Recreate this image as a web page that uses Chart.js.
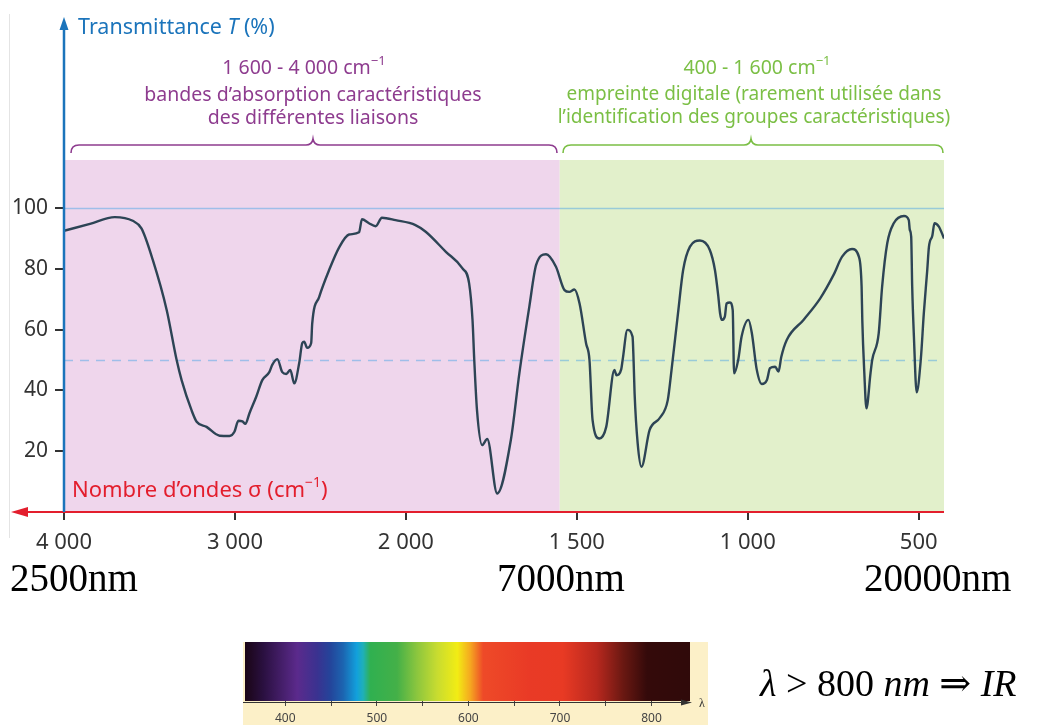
<!DOCTYPE html>
<html><head><meta charset="utf-8">
<script src="https://cdn.jsdelivr.net/npm/chart.js@4"></script>
<style>
html,body{margin:0;padding:0;background:#fff;}
#wrap{position:relative;width:1041px;height:725px;overflow:hidden;}
#main{position:absolute;left:0;top:0;}
#spec{position:absolute;left:243px;top:642px;background:#fcf0c8;}
</style></head><body>
<div id="wrap"><canvas id="main" width="1041" height="725"></canvas><canvas id="spec" width="465" height="83"></canvas></div>
<script>
// ---------- data ----------
const wavenumber = [4000,3848,3703,3598,3547,3481,3399,3341,3312,3254,
 3224,3166,3090,3032,3003,2980,2956,2939,2915,2875,
 2840,2799,2781,2752,2723,2700,2676,2653,2624,2606,
 2595,2577,2554,2548,2507,2449,2391,2332,2274,2257,
 2216,2177,2140,2060,1972,1942,1883,1835,1815,1805,
 1800,1792,1777,1762,1733,1693,1668,1639,1619,1590,
 1561,1536,1522,1507,1492,1473,1463,1454,1434,1414,
 1390,1384,1370,1366,1352,1337,1334,1331,1322,1311,
 1287,1257,1234,1223,1204,1189,1169,1140,1111,1096,
 1086,1081,1076,1067,1062,1052,1044,1040,1028,1018,
 998,988,974,959,944,935,920,910,902,886,
 837,788,749,724,695,675,667,665,659,653,
 641,636,617,607,592,573,543,529,526,522,
 519,514,506,494,485,475,470,460,454,441,426];
const transmittance = [92.5,94.8,97.0,95.8,93.3,83,66.4,50,43.4,33.5,
 29.7,28,25.1,25,26.4,30,29.8,29,32.5,38,
 43.4,46,48.5,50.3,46,45.4,46.7,42.3,49,55.6,
 56,54,55.6,62,70.8,79.6,87,91.3,92,96.3,
 95,94,96.8,96,94.4,92.2,85.6,80.2,75.2,63,
 50,33.5,22,24,6.1,23.7,45.7,67.5,81.3,84.8,
 80.7,73,72.4,73.2,68.6,55.5,50,30.3,24.2,28,
 46.7,45,47,50,59.9,57.7,50,39,22.6,14.9,
 27,31,36.8,46.7,65.4,79.6,87.3,89.3,86.2,79.6,
 70.8,65.4,63.2,64.3,68.6,68.9,66.4,45.6,50,57.7,
 63.2,58.8,47,42.1,43.4,47.3,47.8,46.2,51,56.6,
 63.2,70.3,78,84,86.5,84,74.1,63.2,45.6,34.1,
 45.6,50,58.8,74.1,88.4,95,97.4,96,92.8,90.6,
 74,57.7,39.4,50,65.4,79.6,87.3,91,95,93.9,90];
const xTickWavenumbers = [4000,3000,2000,1500,1000,500];
const yTickValues = [20,40,60,80,100];
const xRange = [4000,426];
const yRange = [0,115.8];
const regionEdges = [4000,1550,426];
const refLines = [100,50];
const nmLabels = ['2500nm','7000nm','20000nm'];
const specRange = [356,842];
const specTicks = [400,450,500,550,600,650,700,750,800];
const specStopsNm = [356,376,413,435,449,463,478,485,493,522,544,566,588,602,616,667,703,740,769,795,842];
const specStopsColor = ['#1a0515','#2a1040','#5b2a8c','#3a3290','#24449a','#1c64b0','#12a0dc','#1fb0b8','#30b050','#44b048','#8cc63e','#c8dc30','#f2ec14','#f5a820','#ee4a28','#e93a26','#e83a24','#b8281e','#6a1812','#340a0a','#300a0a'];

// axis with IR scale change at 2000 cm-1 (half compression above 2000)
function u(s){ return s >= 2000 ? (4000 - s)/2 : 1000 + (2000 - s); }
function sigma(v){ return v <= 1000 ? 4000 - 2*v : 2000 - (v - 1000); }
function fmt(n){ n = Math.round(n); return n >= 1000 ? Math.floor(n/1000) + ' ' + String(n%1000).padStart(3,'0') : String(n); }

const SANS = '"Noto Sans", "Open Sans", sans-serif';
const SERIF = '"Liberation Serif", "DejaVu Serif", serif';

function rich(ctx, parts, x, y, align){
  let w = 0;
  parts.forEach(p => { ctx.font = p.font; p.w = ctx.measureText(p.t).width; w += p.w; });
  let cx = align === 'center' ? x - w/2 : x;
  ctx.textBaseline = 'middle'; ctx.textAlign = 'left';
  parts.forEach(p => { ctx.font = p.font; ctx.fillText(p.t, cx, y + (p.dy || 0)); cx += p.w; });
}
function brace(ctx, x0, x1, cx, y, color){
  ctx.save(); ctx.strokeStyle = color; ctx.lineWidth = 1.6;
  ctx.beginPath();
  ctx.moveTo(x0, y + 8);
  ctx.quadraticCurveTo(x0, y, x0 + 8, y);
  ctx.lineTo(cx - 7, y);
  ctx.quadraticCurveTo(cx - 1, y, cx, y - 6);
  ctx.quadraticCurveTo(cx + 1, y, cx + 7, y);
  ctx.lineTo(x1 - 8, y);
  ctx.quadraticCurveTo(x1, y, x1, y + 8);
  ctx.stroke(); ctx.restore();
}

const decor = {
  id: 'decor',
  beforeDraw(chart){
    const {ctx, chartArea: a, scales: {x, y}} = chart;
    const xb = x.getPixelForValue(u(regionEdges[1]));
    const xl = x.getPixelForValue(u(regionEdges[0]));
    const xr = x.getPixelForValue(u(regionEdges[2]));
    ctx.save();
    ctx.fillStyle = '#efd6ec'; ctx.fillRect(xl, a.top, xb - xl, a.bottom - a.top);
    ctx.fillStyle = '#e2f0cb'; ctx.fillRect(xb, a.top, xr - xb, a.bottom - a.top);
    ctx.strokeStyle = 'rgba(80,165,230,0.5)'; ctx.lineWidth = 1.5;
    let py = Math.round(y.getPixelForValue(refLines[0])) + 0.5;
    ctx.beginPath(); ctx.moveTo(a.left, py); ctx.lineTo(a.right, py); ctx.stroke();
    py = Math.round(y.getPixelForValue(refLines[1])) + 0.5;
    ctx.setLineDash([9,7]);
    ctx.beginPath(); ctx.moveTo(a.left, py); ctx.lineTo(a.right, py); ctx.stroke();
    ctx.restore();
    // faint image border line
    ctx.save(); ctx.strokeStyle = '#e4e4e4'; ctx.lineWidth = 1;
    ctx.beginPath(); ctx.moveTo(9.5, 14); ctx.lineTo(9.5, 538); ctx.stroke(); ctx.restore();
  },
  afterDraw(chart){
    const {ctx, chartArea: a} = chart;
    ctx.save();
    // red x axis with arrow to the left
    const red = '#e31e2d';
    ctx.strokeStyle = red; ctx.fillStyle = red; ctx.lineWidth = 2;
    ctx.beginPath(); ctx.moveTo(24, a.bottom); ctx.lineTo(a.right, a.bottom); ctx.stroke();
    ctx.beginPath(); ctx.moveTo(11, a.bottom); ctx.lineTo(28, a.bottom - 5); ctx.lineTo(28, a.bottom + 5); ctx.closePath(); ctx.fill();
    // blue y axis with arrow up
    const blue = '#1b74bb';
    ctx.strokeStyle = blue; ctx.fillStyle = blue; ctx.lineWidth = 2.5;
    ctx.beginPath(); ctx.moveTo(a.left, a.bottom); ctx.lineTo(a.left, 28); ctx.stroke();
    ctx.beginPath(); ctx.moveTo(a.left, 17); ctx.lineTo(a.left - 4.5, 30); ctx.lineTo(a.left + 4.5, 30); ctx.closePath(); ctx.fill();
    // axis titles
    ctx.fillStyle = blue;
    rich(ctx, [{t:'Transmittance ', font:'21.5px '+SANS},{t:'T', font:'italic 21.5px '+SANS},{t:' (%)', font:'21.5px '+SANS}], 78, 28, 'left');
    ctx.fillStyle = red;
    rich(ctx, [{t:'Nombre d\u2019ondes \u03c3 (cm', font:'22px '+SANS},{t:'\u22121', font:'14px '+SANS, dy:-8},{t:')', font:'22px '+SANS}], 72, 491, 'left');
    // purple group
    const purple = '#8e3c8f';
    ctx.fillStyle = purple;
    rich(ctx, [{t:'1 600 - 4 000 cm', font:'19.5px '+SANS},{t:'\u22121', font:'13px '+SANS, dy:-7}], 304, 68, 'center');
    rich(ctx, [{t:'bandes d\u2019absorption caract\u00e9ristiques', font:'19.5px '+SANS}], 313, 95, 'center');
    rich(ctx, [{t:'des diff\u00e9rentes liaisons', font:'19.5px '+SANS}], 313, 118, 'center');
    brace(ctx, 71, 557, 313, 145, purple);
    // green group
    const green = '#7bbf45';
    ctx.fillStyle = green;
    rich(ctx, [{t:'400 - 1 600 cm', font:'19.5px '+SANS},{t:'\u22121', font:'13px '+SANS, dy:-7}], 757, 68, 'center');
    rich(ctx, [{t:'empreinte digitale (rarement utilis\u00e9e dans', font:'19px '+SANS}], 754, 95, 'center');
    rich(ctx, [{t:'l\u2019identification des groupes caract\u00e9ristiques)', font:'19px '+SANS}], 754, 118, 'center');
    brace(ctx, 563, 943, 751, 145, green);
    // wavelength labels
    ctx.fillStyle = '#000'; ctx.font = '39px ' + SERIF; ctx.textBaseline = 'alphabetic'; ctx.textAlign = 'left';
    ctx.fillText(nmLabels[0], 10, 591);
    ctx.fillText(nmLabels[1], 497, 591);
    ctx.fillText(nmLabels[2], 864, 591);
    // formula
    rich(ctx, [{t:'\u03bb', font:'italic 38px '+SERIF},{t:' > 800 ', font:'38px '+SERIF},{t:'nm', font:'italic 38px '+SERIF},{t:' \u21d2 ', font:'38px '+SERIF},{t:'IR', font:'italic 38px '+SERIF}], 760, 686, 'left');
    ctx.restore();
  }
};

const points = wavenumber.map((w, i) => ({x: u(w), y: transmittance[i]}));

new Chart(document.getElementById('main'), {
  type: 'line',
  data: { datasets: [{ data: points, borderColor: '#2d4455', borderWidth: 2.4, pointRadius: 0, fill: false, cubicInterpolationMode: 'monotone' }] },
  options: {
    responsive: false, animation: false, devicePixelRatio: 1,
    events: [],
    layout: { padding: { left: 0, right: 97, top: 160, bottom: 163 } },
    plugins: { legend: { display: false }, tooltip: { enabled: false } },
    scales: {
      x: {
        type: 'linear', min: u(xRange[0]), max: u(xRange[1]),
        afterBuildTicks: s => { s.ticks = xTickWavenumbers.map(w => ({value: u(w)})); },
        afterFit: s => { s.height = 50; },
        border: { display: false },
        grid: { drawOnChartArea: false, tickLength: 8, color: '#333', lineWidth: 2 },
        ticks: { callback: v => fmt(sigma(v)), font: { family: SANS, size: 22 }, color: '#333', padding: 10, maxRotation: 0, autoSkip: false }
      },
      y: {
        min: yRange[0], max: yRange[1],
        afterBuildTicks: s => { s.ticks = yTickValues.map(v => ({value: v})); },
        afterFit: s => { s.width = 64; },
        border: { display: false },
        grid: { drawOnChartArea: false, tickLength: 9, color: '#333', lineWidth: 2 },
        ticks: { font: { family: SANS, size: 21 }, color: '#333', padding: 7 }
      }
    }
  },
  plugins: [decor]
});

// ---------- visible spectrum strip ----------
const specDecor = {
  id: 'specDecor',
  afterDraw(chart){
    const {ctx, chartArea: a} = chart;
    ctx.save();
    ctx.strokeStyle = '#333'; ctx.fillStyle = '#333'; ctx.lineWidth = 1.2;
    const yy = a.bottom + 1.5;
    ctx.beginPath(); ctx.moveTo(0, yy); ctx.lineTo(a.right - 4, yy); ctx.stroke();
    ctx.beginPath(); ctx.moveTo(a.right + 2, yy); ctx.lineTo(a.right - 9, yy - 3); ctx.lineTo(a.right - 9, yy + 3); ctx.closePath(); ctx.fill();
    ctx.font = '12px ' + SERIF; ctx.textAlign = 'left'; ctx.textBaseline = 'middle';
    ctx.fillText('\u03bb', a.right + 9, yy + 1);
    ctx.restore();
  }
};
new Chart(document.getElementById('spec'), {
  type: 'line',
  data: { datasets: [{
    data: [{x: specRange[0], y: 1}, {x: specRange[1], y: 1}],
    borderWidth: 0, pointRadius: 0, fill: 'origin',
    backgroundColor: (c) => {
      const ch = c.chart, a = ch.chartArea;
      if (!a) return '#000';
      const sx = ch.scales.x;
      const g = ch.ctx.createLinearGradient(a.left, 0, a.right, 0);
      specStopsNm.forEach((nm, i) => {
        const t = (sx.getPixelForValue(nm) - a.left) / (a.right - a.left);
        g.addColorStop(Math.min(1, Math.max(0, t)), specStopsColor[i]);
      });
      return g;
    }
  }] },
  options: {
    responsive: false, animation: false, devicePixelRatio: 1, events: [],
    layout: { padding: { left: 2, right: 18, top: 0, bottom: 0 } },
    plugins: { legend: { display: false }, tooltip: { enabled: false } },
    scales: {
      x: {
        type: 'linear', min: specRange[0], max: specRange[1],
        afterBuildTicks: s => { s.ticks = specTicks.map(v => ({value: v})); },
        afterFit: s => { s.height = 24; },
        border: { display: false },
        grid: { drawOnChartArea: false, tickLength: 5, color: '#444', lineWidth: 1, offset: false },
        ticks: { callback: v => (v % 100 === 0 ? String(v) : ''), font: { family: SANS, size: 12 }, color: '#444', padding: 5, maxRotation: 0, autoSkip: false }
      },
      y: { display: false, min: 0, max: 1 }
    }
  },
  plugins: [specDecor]
});
</script>
</body></html>
